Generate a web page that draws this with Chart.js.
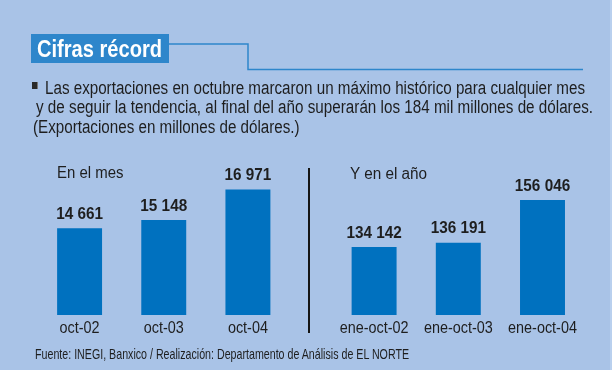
<!DOCTYPE html>
<html><head><meta charset="utf-8">
<script src="https://cdn.jsdelivr.net/npm/chart.js@4.4.1/dist/chart.umd.min.js"></script>
<style>
html,body{margin:0;padding:0;}
body{width:612px;height:370px;background:#A9C3E7;position:relative;overflow:hidden;font-family:"Liberation Sans",Arial,sans-serif;}
canvas{position:absolute;left:0;top:0;}
.t{position:absolute;white-space:nowrap;line-height:0;transform-origin:0 0;color:#1e1e1e;margin:0;}
</style></head><body>
<div style="position:absolute;right:0;top:0;width:2px;height:370px;background:#B9D0EE"></div>
<div style="position:absolute;left:31px;top:34px;width:138px;height:29px;background:#2E86CB"></div>
<svg width="612" height="370" style="position:absolute;left:0;top:0">
  <polyline points="169,44 248,44 248,69.5 583,69.5" fill="none" stroke="#2E86CB" stroke-width="1.5"/>
  <line x1="309" y1="168" x2="309" y2="333" stroke="#151515" stroke-width="2"/>
</svg>
<div style="position:absolute;left:32px;top:82px;width:5px;height:7px;background:#2a2a2a;border-right:1.5px solid #777"></div>
<canvas id="c1" width="612" height="370"></canvas>
<canvas id="c2" width="612" height="370"></canvas>
<script>
// ---- data ----
const titleText = 'Cifras récord';
const bodyLines = [
  'Las exportaciones en octubre marcaron un máximo histórico para cualquier mes',
  'y de seguir la tendencia, al final del año superarán los 184 mil millones de dólares.',
  '(Exportaciones en millones de dólares.)'
];
const sourceText = 'Fuente: INEGI, Banxico / Realización: Departamento de Análisis de EL NORTE';
const monthTitle = 'En el mes';
const monthLabels = ['oct-02', 'oct-03', 'oct-04'];
const monthValues = [14661, 15148, 16971];
const yearTitle = 'Y en el año';
const yearLabels = ['ene-oct-02', 'ene-oct-03', 'ene-oct-04'];
const yearValues = [134142, 136191, 156046];

const FONT = '"Liberation Sans", Arial, sans-serif';
const BAR = '#0071BF';
const TXT = '#1e1e1e';

const mctx = document.createElement('canvas').getContext('2d');
function measure(text, font) { mctx.font = font; return mctx.measureText(text).width; }

// place HTML text: left, baseline, font size, weight, either target width or scale
function place(text, o) {
  const el = document.createElement('div');
  el.className = 't';
  el.textContent = text;
  const weight = o.weight || 'normal';
  el.style.font = weight + ' ' + o.size + 'px ' + FONT;
  el.style.lineHeight = '0';
  el.style.left = o.left + 'px';
  el.style.top = (o.base - 0.3465 * o.size) + 'px';
  if (o.color) el.style.color = o.color;
  let s = o.scale;
  if (o.width) s = o.width / measure(text, weight + ' ' + o.size + 'px ' + FONT);
  el.style.transform = 'scaleX(' + s + ')';
  document.body.appendChild(el);
  return s;
}

place(titleText, {left: 36.5, base: 57.3, size: 24, weight: 'bold', width: 125, color: '#ffffff'});
const s1 = place(bodyLines[0], {left: 45, base: 94, size: 18, width: 540});
place(bodyLines[1], {left: 36, base: 113.5, size: 18, width: 557});
place(bodyLines[2], {left: 33, base: 133, size: 18, scale: s1});
place(sourceText, {left: 35, base: 359, size: 15, width: 375});
place(monthTitle, {left: 56.7, base: 178.5, size: 16, width: 66.5});
place(yearTitle, {left: 350.3, base: 179.3, size: 16, width: 77.4});

function fmt(n) { return String(n).replace(/\B(?=(\d{3})+(?!\d))/g, ' '); }

const labelPlugin = {
  id: 'labels',
  afterDatasetsDraw(chart) {
    const ctx = chart.ctx;
    const meta = chart.getDatasetMeta(0);
    const xs = chart.scales.x;
    const vals = chart.data.datasets[0].data;
    ctx.save();
    ctx.fillStyle = TXT;
    ctx.textAlign = 'center';
    ctx.textBaseline = 'alphabetic';
    meta.data.forEach((bar, i) => {
      ctx.save();
      ctx.font = 'bold 17px ' + FONT;
      ctx.translate(bar.x, bar.y - 9.3);
      ctx.scale(0.9, 1);
      ctx.fillText(fmt(vals[i]), 0, 0);
      ctx.restore();
      ctx.save();
      ctx.font = '16px ' + FONT;
      ctx.translate(xs.getPixelForValue(i), 333);
      ctx.scale(0.9, 1);
      ctx.fillText(chart.data.labels[i], 0, 0);
      ctx.restore();
    });
    ctx.restore();
  }
};

function makeChart(id, labels, values, yMin, yMax, pad) {
  return new Chart(document.getElementById(id), {
    type: 'bar',
    data: {labels: labels, datasets: [{data: values, backgroundColor: BAR, borderWidth: 0,
      barPercentage: 0.534, categoryPercentage: 1}]},
    options: {
      responsive: false, animation: false, devicePixelRatio: 1,
      layout: {padding: pad},
      plugins: {legend: {display: false}, tooltip: {enabled: false}},
      scales: {x: {display: false}, y: {display: false, min: yMin, max: yMax}}
    },
    plugins: [labelPlugin]
  });
}

makeChart('c1', monthLabels, monthValues, 9500, 19440, {left: 37.5, right: 322, top: 148, bottom: 55});
makeChart('c2', yearLabels, yearValues, 102500, 180250, {left: 332, right: 27.4, top: 148, bottom: 55});
</script>
</body></html>
